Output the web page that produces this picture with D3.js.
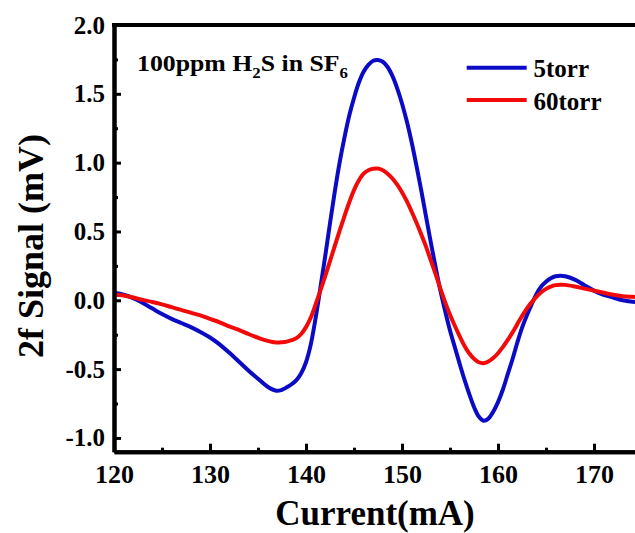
<!DOCTYPE html>
<html>
<head>
<meta charset="utf-8">
<script src="https://cdn.jsdelivr.net/npm/d3@7"></script>
<style>
  html, body { margin: 0; padding: 0; background: #fff; overflow: hidden; }
  svg { display: block; }
  text { font-family: "Liberation Serif", "Times New Roman", serif; font-weight: bold; fill: #000; }
</style>
</head>
<body>
<svg id="chart" width="635" height="533"></svg>
<script>
// ---- data ----
const current = [
  120,121,122,123,124,125,126,127,128,129,
  130,131,132,133,134,135,136,136.9,137.5,138,
  138.5,139,139.5,140,140.5,141,141.5,142,142.5,143,
  143.5,144,144.5,145,145.5,146,146.5,147,147.5,148,
  148.5,149,149.5,150,150.5,151,151.5,152,152.5,153,
  153.5,154,154.5,155,155.5,156,156.5,157,157.5,158,
  158.5,159,159.5,160,160.5,161,161.5,162,162.5,163,
  163.5,164,164.5,165,165.5,166,166.5,167,168,169,
  170,171,172,173,174,175,176
];
const signal5torr = [
  0.055,0.04,0.015,-0.02,-0.06,-0.10,-0.135,-0.165,-0.195,-0.23,
  -0.27,-0.32,-0.38,-0.445,-0.51,-0.57,-0.628,-0.657,-0.65,-0.632,
  -0.61,-0.58,-0.53,-0.45,-0.32,-0.13,0.09,0.32,0.56,0.79,
  1.0,1.18,1.34,1.47,1.58,1.66,1.71,1.74,1.745,1.733,
  1.695,1.63,1.54,1.43,1.30,1.15,0.98,0.80,0.61,0.42,
  0.24,0.07,-0.08,-0.22,-0.34,-0.46,-0.575,-0.68,-0.775,-0.845,
  -0.875,-0.86,-0.81,-0.74,-0.65,-0.54,-0.43,-0.31,-0.20,-0.11,
  -0.03,0.045,0.10,0.135,0.16,0.175,0.178,0.175,0.15,0.11,
  0.07,0.04,0.02,0.0,-0.01,-0.015,-0.02
];
const signal60torr = [
  0.04,0.035,0.02,0.003,-0.012,-0.03,-0.05,-0.07,-0.09,-0.11,
  -0.135,-0.16,-0.19,-0.215,-0.245,-0.272,-0.295,-0.307,-0.305,-0.30,
  -0.29,-0.275,-0.245,-0.195,-0.125,-0.03,0.07,0.175,0.285,0.395,
  0.505,0.61,0.71,0.80,0.87,0.92,0.945,0.955,0.957,0.945,
  0.92,0.885,0.84,0.785,0.72,0.645,0.565,0.48,0.39,0.29,
  0.19,0.085,-0.015,-0.105,-0.185,-0.26,-0.33,-0.385,-0.425,-0.45,
  -0.457,-0.445,-0.42,-0.385,-0.34,-0.29,-0.235,-0.175,-0.115,-0.06,
  -0.015,0.025,0.058,0.083,0.10,0.11,0.113,0.112,0.10,0.085,
  0.07,0.055,0.04,0.03,0.025,0.02,0.02
];
const seriesNames = ["5torr", "60torr"];
const seriesColors = ["#0b0bc6", "#f00a0a"];
const xTicks = [120,130,140,150,160,170];
const xMinorTicks = [125,135,145,155,165,175];
const yTicks = [-1.0,-0.5,0.0,0.5,1.0,1.5,2.0];
const yMinorTicks = [-0.75,-0.25,0.25,0.75,1.25,1.75];
const xLabel = "Current(mA)";
const yLabel = "2f Signal (mV)";

// ---- layout ----
const plotLeft = 114, plotTop = 25, plotBottom = 451.7;
const x = d3.scaleLinear().domain([120, 176]).range([plotLeft, plotLeft + 56 * 9.6]);
const y = d3.scaleLinear().domain([-1.1, 2.0]).range([plotBottom, plotTop]);
const plotRight = x.range()[1];

const svg = d3.select("#chart");

svg.append("defs").append("clipPath").attr("id", "plotclip")
  .append("rect").attr("x", plotLeft).attr("y", plotTop)
  .attr("width", plotRight - plotLeft).attr("height", plotBottom - plotTop);

// lines
const series = [signal5torr, signal60torr];
const line = d3.line().x(d => x(d[0])).y(d => y(d[1])).curve(d3.curveCatmullRom.alpha(0.5));
const gLines = svg.append("g").attr("clip-path", "url(#plotclip)");
series.forEach((vals, i) => {
  gLines.append("path")
    .datum(current.map((c, k) => [c, vals[k]]))
    .attr("fill", "none")
    .attr("stroke", seriesColors[i])
    .attr("stroke-width", 4)
    .attr("stroke-linejoin", "round")
    .attr("d", line);
});

// axes
const fmt = d => d.toFixed(1);
const yAxis = d3.axisLeft(y).tickValues(yTicks).tickFormat(fmt).tickSizeInner(-7).tickSizeOuter(0).tickPadding(9);
const yMinor = d3.axisLeft(y).tickValues(yMinorTicks).tickFormat("").tickSizeInner(-4).tickSizeOuter(0);
const xAxis = d3.axisBottom(x).tickValues(xTicks).tickFormat(d3.format("d")).tickSizeInner(-8).tickSizeOuter(0).tickPadding(13);
const xMinor = d3.axisBottom(x).tickValues(xMinorTicks).tickFormat("").tickSizeInner(-4).tickSizeOuter(0);

function style(g, fs) {
  g.select(".domain").attr("stroke", "#000").attr("stroke-width", 4);
  g.selectAll(".tick line").attr("stroke", "#000").attr("stroke-width", 3);
  g.selectAll(".tick text").style("font-size", fs + "px").attr("fill", "#000")
    .style("font-family", '"Liberation Serif", "Times New Roman", serif').style("font-weight", "bold");
}

svg.append("g").attr("transform", `translate(${plotLeft},0)`).call(yMinor).call(g => style(g, 25));
svg.append("g").attr("transform", `translate(${plotLeft},0)`).call(yAxis).call(g => style(g, 25));
svg.append("g").attr("transform", `translate(0,${plotBottom})`).call(xMinor).call(g => style(g, 26));
svg.append("g").attr("transform", `translate(0,${plotBottom})`).call(xAxis).call(g => style(g, 26));

// top frame line
svg.append("line").attr("x1", plotLeft - 2).attr("x2", plotRight).attr("y1", plotTop).attr("y2", plotTop)
  .attr("stroke", "#000").attr("stroke-width", 4);

// axis titles
svg.append("text").attr("x", (276.7 + 473.3) / 2).attr("y", 525)
  .attr("text-anchor", "middle").style("font-size", "35px").text(xLabel);
svg.append("text").attr("transform", "translate(43,246) rotate(-90)")
  .attr("text-anchor", "middle").style("font-size", "36px").text(yLabel);

// annotation
const ann = svg.append("text").attr("x", 137).attr("y", 70.5).style("font-size", "23px")
  .attr("textLength", 211).attr("lengthAdjust", "spacingAndGlyphs");
ann.append("tspan").text("100ppm H");
ann.append("tspan").attr("dy", 7).style("font-size", "15px").text("2");
ann.append("tspan").attr("dy", -7).text("S in SF");
ann.append("tspan").attr("dy", 7).style("font-size", "15px").text("6");

// legend
const legendY = [67.7, 100];
seriesNames.forEach((name, i) => {
  svg.append("line").attr("x1", 466.7).attr("x2", 526.7).attr("y1", legendY[i]).attr("y2", legendY[i])
    .attr("stroke", seriesColors[i]).attr("stroke-width", 4);
  svg.append("text").attr("x", 533.5).attr("y", legendY[i] + 9.5).style("font-size", "25px").text(name);
});
</script>
</body>
</html>
